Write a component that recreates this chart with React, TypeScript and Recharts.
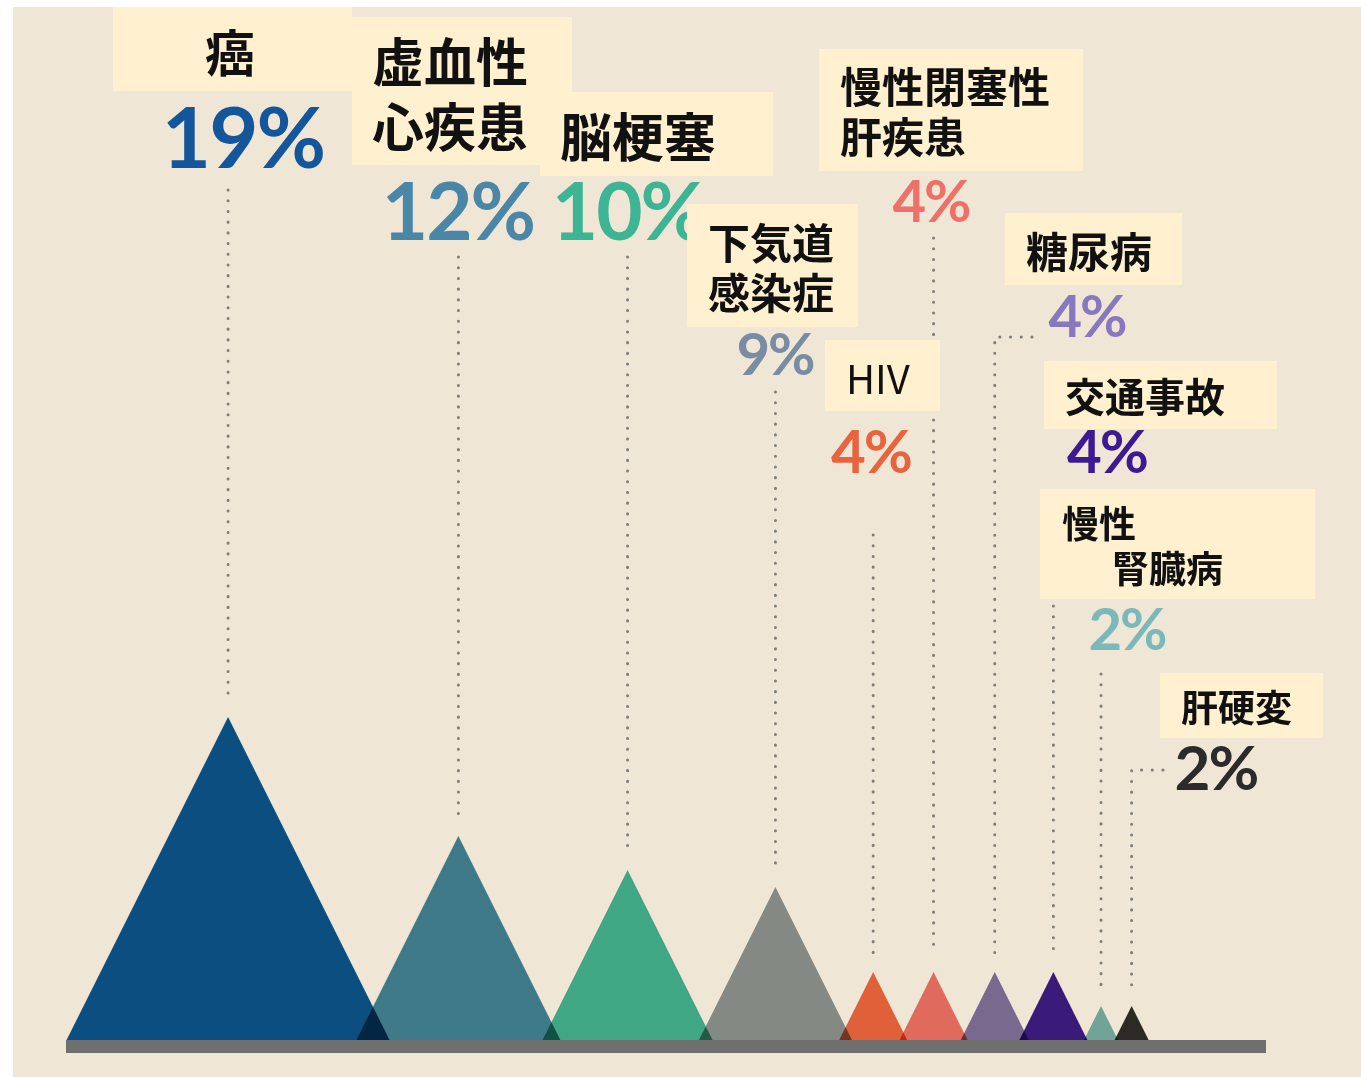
import { Bar, ComposedChart, LabelList, ReferenceArea, XAxis, YAxis } from 'recharts';

// Causes of death (Japanese labels, split into the lines shown in each box).
const CAUSE_LINES = [
  ['癌'],
  ['虚血性', '心疾患'],
  ['脳梗塞'],
  ['下気道', '感染症'],
  ['HIV'],
  ['慢性閉塞性', '肝疾患'],
  ['糖尿病'],
  ['交通事故'],
  ['慢性', '腎臓病'],
  ['肝硬変'],
];
const SHARES = [19, 12, 10, 9, 4, 4, 4, 4, 2, 2];
// peak centre along the base line, in the same units as the shares
const PEAK_POS = [9.55, 23.1, 33.05, 41.75, 47.5, 51.05, 54.65, 58.1, 60.9, 62.7];

const PEAK_COLORS = [
  '#0a4f80', '#3f7a88', '#3fa784', '#858984', '#e0603a',
  '#e06a5c', '#79698f', '#3b1b7a', '#6fa497', '#2b2a25',
];
const PCT_COLORS = [
  '#13569c', '#4a86a6', '#3db595', '#7a8ca4', '#e8643f',
  '#ee7169', '#8878c0', '#3d1a92', '#7ab8bb', '#2b2b2b',
];

const X_MAX = 1200 / 17;

const data = CAUSE_LINES.map((lines, i) => ({
  name: lines.join(''),
  pos: PEAK_POS[i],
  value: SHARES[i],
}));

// hand placed annotation boxes (page coordinates)
type LabelLayout = {
  box: [number, number, number, number];
  lines: [number, number][];
  size: number;
  weight?: number;
  anchor?: 'start' | 'middle';
  pct: [number, number, number];
  leaderTop: number;
  elbow?: number;
};

const LAYOUT: LabelLayout[] = [
  { box: [113, 7, 239, 84], lines: [[230, 50]], size: 50, anchor: 'middle', pct: [243, 168, 85], leaderTop: 190 },
  { box: [352, 17, 220, 148], lines: [[372, 59], [372, 124]], size: 52, pct: [458, 240, 80], leaderTop: 257 },
  { box: [540, 92, 233, 84], lines: [[560, 134]], size: 52, pct: [628, 240, 80], leaderTop: 257 },
  { box: [687, 204, 171, 123], lines: [[708, 240], [708, 290]], size: 42, pct: [775, 375, 58], leaderTop: 392 },
  { box: [825, 340, 115, 71], lines: [[846, 377]], size: 40, weight: 400, pct: [871, 473, 60], leaderTop: 535 },
  { box: [819, 49, 264, 122], lines: [[840, 84], [840, 134]], size: 42, pct: [931, 222, 58], leaderTop: 238 },
  { box: [1005, 213, 177, 72], lines: [[1026, 249]], size: 42, pct: [1087, 337, 58], leaderTop: 337, elbow: 1032 },
  { box: [1044, 361, 233, 68], lines: [[1065, 395]], size: 40, pct: [1107, 473, 60], leaderTop: 606 },
  { box: [1040, 489, 275, 110], lines: [[1062, 522], [1112, 567]], size: 37, pct: [1127, 650, 58], leaderTop: 674 },
  { box: [1160, 673, 163, 65], lines: [[1181, 706]], size: 37, pct: [1216, 790, 62], leaderTop: 770, elbow: 1163 },
];

const indexOf = (name: string) => data.findIndex((d) => d.name === name);

// triangle whose base width equals its height, plus the dotted leader above it
const Peak = (props: any) => {
  const { x, y, width, height, payload } = props;
  const i = indexOf(payload?.name);
  if (i < 0) return null;
  const cx = x + width / 2;
  const base = y + height;
  const half = height / 2;
  const lay = LAYOUT[i];
  const bottom = y - 19;
  const leader = lay.elbow
    ? `M${lay.elbow},${lay.leaderTop} H${cx} V${bottom}`
    : `M${cx},${lay.leaderTop} V${bottom}`;
  return (
    <g>
      <path
        d={`M${cx - half},${base} L${cx},${y} L${cx + half},${base} Z`}
        fill={PEAK_COLORS[i]}
        style={{ mixBlendMode: 'multiply' }}
      />
      <path
        d={leader}
        fill="none"
        stroke="#7d7d7d"
        strokeWidth={3}
        strokeDasharray="0.1 10.6"
        strokeLinecap="round"
      />
    </g>
  );
};

const CauseLabel = (props: any) => {
  const i = indexOf(props.value);
  if (i < 0) return null;
  const lay = LAYOUT[i];
  const [bx, by, bw, bh] = lay.box;
  const [px, py, ps] = lay.pct;
  return (
    <g>
      <rect x={bx} y={by} width={bw} height={bh} fill="#fff1cf" />
      {CAUSE_LINES[i].map((t, k) => (
        <text
          key={k}
          x={lay.lines[k][0]}
          y={lay.lines[k][1]}
          textAnchor={lay.anchor ?? 'start'}
          dominantBaseline="central"
          fontFamily='"Noto Sans CJK JP", sans-serif'
          fontWeight={lay.weight ?? 700}
          fontSize={lay.size}
          fill="#111"
        >
          {t}
        </text>
      ))}
      <text
        x={px}
        y={py}
        textAnchor="middle"
        fontFamily="Lato, sans-serif"
        fontWeight={700}
        fontSize={ps}
        letterSpacing={-2}
        fill={PCT_COLORS[i]}
      >
        {`${SHARES[i]}%`}
      </text>
    </g>
  );
};

export default function App() {
  return (
    <div style={{ position: 'fixed', left: 0, top: 0, width: 1361, height: 1077, background: '#fff' }}>
      <style>{'.peaks { isolation: isolate; }'}</style>
      <div style={{ position: 'absolute', left: 13, top: 7, width: 1348, height: 1070, background: '#f0e6d5' }} />
      <div style={{ position: 'absolute', left: 0, top: 0 }}>
        <ComposedChart
          width={1361}
          height={1077}
          data={data}
          margin={{ top: 20, right: 95, bottom: 24, left: 66 }}
        >
          <XAxis type="number" dataKey="pos" domain={[0, X_MAX]} hide />
          <YAxis type="number" domain={[-0.765, 60]} hide />
          <ReferenceArea
            x1={0}
            x2={X_MAX}
            y1={-0.765}
            y2={0}
            fill="#6f6f6f"
            fillOpacity={1}
            stroke="none"
          />
          <Bar
            className="peaks"
            dataKey="value"
            barSize={2}
            shape={Peak}
            isAnimationActive={false}
          >
            <LabelList dataKey="name" content={CauseLabel} />
          </Bar>
        </ComposedChart>
      </div>
    </div>
  );
}
